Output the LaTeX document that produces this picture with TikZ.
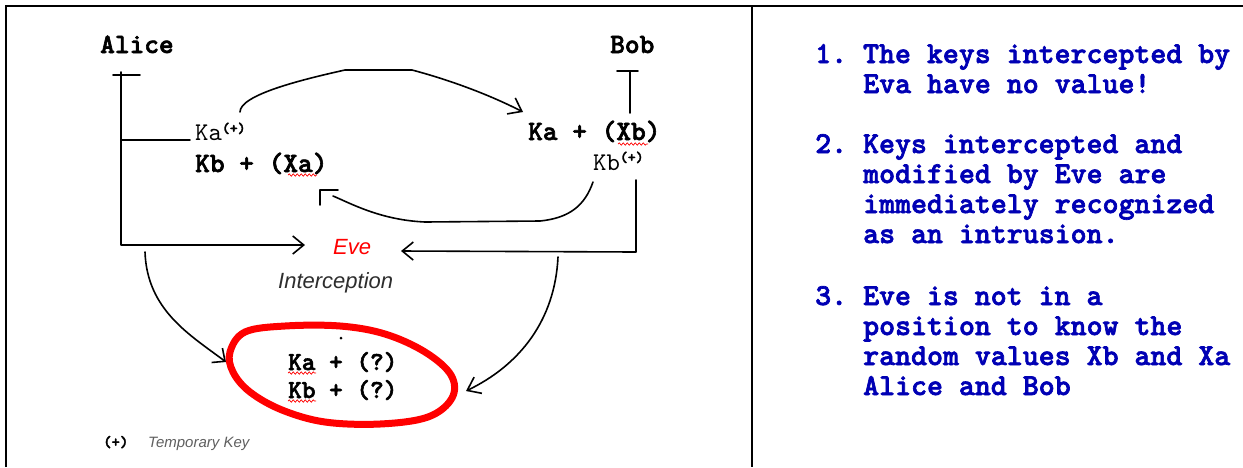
\documentclass[tikz,border=0pt]{standalone}
\usepackage{fontspec}
\setmainfont{Liberation Serif}
\newfontfamily\courb[FakeBold=2.2]{lmmonolt10-bold.otf}
\newfontfamily\courr{lmmono10-regular.otf}
\newfontfamily\sans{Liberation Sans}
\usetikzlibrary{arrows.meta,decorations.pathmorphing}
\definecolor{txtblue}{RGB}{0,0,180}
\definecolor{icpgray}{RGB}{45,45,45}
\definecolor{tmpgray}{RGB}{95,95,95}
\frenchspacing
\begin{document}
\begin{tikzpicture}[x=1pt,y=-1pt,
  frame/.style={line width=2.5pt},
  wire/.style={line width=1.6pt, line cap=round, line join=round},
  barbtip/.style={-{Straight Barb[length=#1,width=18pt]}},
  lbl/.style={inner sep=0pt, anchor=base west},
  monob/.style={lbl, font=\courb\fontsize{28}{28}\selectfont},
  monoq/.style={lbl, font=\courb\fontsize{26}{26}\selectfont},
  monor/.style={lbl, font=\courr\fontsize{25.5}{25.5}\selectfont},
  note/.style={lbl, font=\courb\fontsize{30.4}{30}\selectfont, text=txtblue},
  squiggle/.style={red, line width=0.7pt, decorate, decoration={snake, amplitude=1.2pt, segment length=4pt}},
  blob/.style={red, line width=7pt, line join=round}]
\useasboundingbox (0,0) rectangle (1243,467);
% frame
\draw[frame] (6,467) -- (6,6) -- (1243,6);
\draw[frame] (752,6) -- (752,467);

% labels
\node[monob] (alice) at (100,53) {Alice};
\node[monob] (bob) at (610,53) {Bob};
\node[monor] (kap) at (195,140) {Ka\raisebox{7pt}{\courb\fontsize{15}{15}\selectfont(+)}};
\node[monob] (kbxa) at (195,172) {Kb + (Xa)};
\node[monob] (kaxb) at (528,140) {Ka + (Xb)};
\node[monor] (kbp) at (593,170) {Kb\raisebox{8pt}{\courb\fontsize{15}{15}\selectfont(+)}};
\node[lbl, font=\sans\itshape\fontsize{22}{22}\selectfont, text=red] (eve) at (333,254) {Eve};
\node[lbl, font=\sans\itshape\fontsize{22}{22}\selectfont, text=icpgray] (icp) at (278,288) {Interception};
\node[monoq] (kaq) at (288,370) {Ka + (?)};
\node[monoq] (kbq) at (288,398) {Kb + (?)};
\node[lbl, font=\courb\fontsize{16}{16}\selectfont] (plus) at (103,447) {(+)};
\node[lbl, font=\sans\itshape\fontsize{15}{15}\selectfont, text=tmpgray] (tmp) at (148,447) {Temporary Key};

% spelling squiggles
\draw[squiggle] (288,175) -- (317,175);
\draw[squiggle] (618,144) -- (648,144);
\draw[squiggle] (288,373) -- (316,373);
\draw[squiggle] (288,401) -- (316,401);

% Alice bar
\coordinate (aTL) at (113,75);
\coordinate (aTR) at (140,75);
\coordinate (aTop) at (121,72);
\coordinate (aBr) at (121,140);
\coordinate (aBot) at (121,245);
\coordinate (eveInL) at (305,245);
\draw[wire] (aTL) -- (aTR);
\draw[wire, barbtip=11pt] (aTop) -- (aBot) -- (eveInL);
\draw[wire] (aBr) -- ([xshift=-5pt]kap.base west);

% Bob bar
\coordinate (bTL) at (617,71);
\coordinate (bTR) at (638,71);
\coordinate (bTop) at (630,71);
\coordinate (bBot) at (630,113);
\draw[wire] (bTL) -- (bTR);
\draw[wire] (bTop) -- (bBot);

% Ka -> Bob
\coordinate (c1s) at (240,112);
\coordinate (c1e) at (523,112);
\draw[wire, barbtip=12pt] (c1s) .. controls (240,95) and (300,80) .. (345,70) -- (412,70) .. controls (450,80) and (490,95) .. (c1e);

% Kb -> Alice
\coordinate (c2s) at (593,182);
\coordinate (c2e) at (333,196);
\draw[wire] (c2s) .. controls (585,205) and (570,218) .. (540,221) -- (425,222) .. controls (380,220) and (350,203) .. (c2e);
\coordinate (g1) at (338,190);
\coordinate (g2) at (320,190);
\coordinate (g3) at (320,205);
\draw[wire] (g1) -- (g2) -- (g3);

% Bob side to Eve
\coordinate (bR1) at (636,180);
\coordinate (bR2) at (636,252);
\coordinate (eveInR) at (401,251);
\draw[wire, barbtip=11pt] (bR1) -- (bR2) -- (eveInR);

% down to the blob
\coordinate (d1s) at (145,252);
\coordinate (d1e) at (226,362);
\draw[wire, barbtip=10pt] (d1s) .. controls (147,310) and (190,335) .. (d1e);
\coordinate (d2s) at (558,257);
\coordinate (d2e) at (466,391);
\draw[wire, barbtip=12pt] (d2s) .. controls (555,320) and (520,365) .. (d2e);

% red blob
\draw[blob] plot[smooth cycle, tension=0.6] coordinates {(230,352) (245,332) (285,326) (340,326) (385,334) (425,352) (451,375) (452,398) (428,417) (380,424) (325,422) (282,410) (250,392) (233,372)};
\fill (341,338) circle (1.5pt);

% notes
\node[note] (n1a) at (815,63) {1. The keys intercepted by};
\node[note] (n1b) at (863,93) {Eva have no value!};
\node[note] (n2a) at (815,153) {2. Keys intercepted and};
\node[note] (n2b) at (863,183) {modified by Eve are};
\node[note] (n2c) at (863,213) {immediately recognized};
\node[note] (n2d) at (863,243) {as an intrusion.};
\node[note] (n3a) at (815,305) {3. Eve is not in a};
\node[note] (n3b) at (863,335) {position to know the};
\node[note] (n3c) at (863,365) {random values Xb and Xa};
\node[note] (n3d) at (863,395) {Alice and Bob};
\end{tikzpicture}
\end{document}
